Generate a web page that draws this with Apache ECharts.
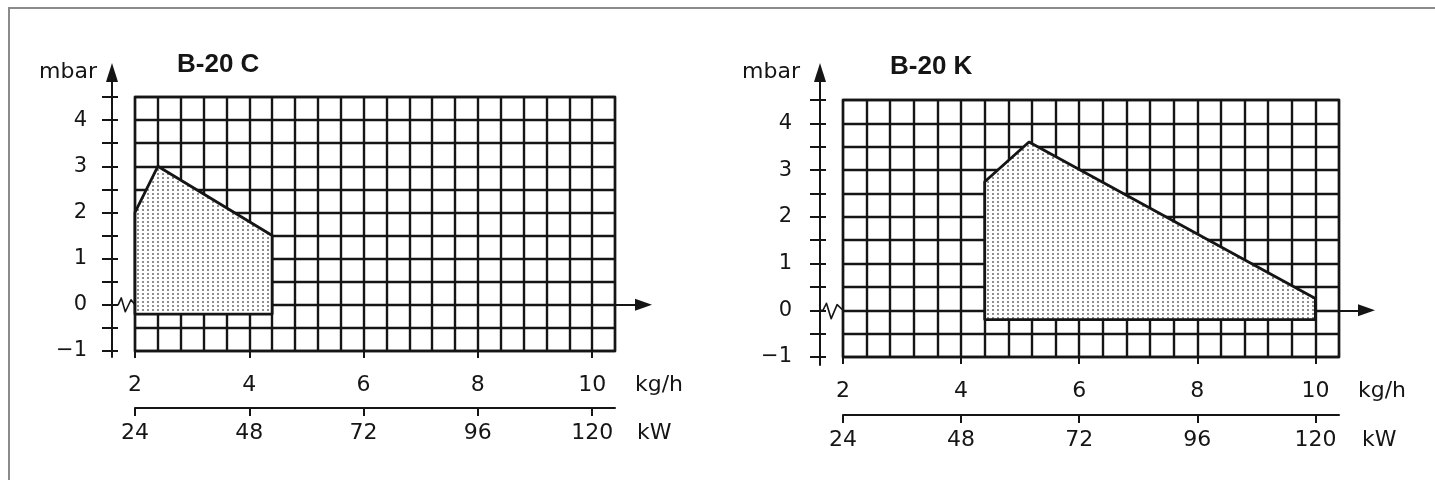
<!DOCTYPE html>
<html><head><meta charset="utf-8">
<script src="https://cdn.jsdelivr.net/npm/echarts@6/dist/echarts.min.js"></script>
<style>
html,body{margin:0;padding:0;background:#fff;overflow:hidden;width:1435px;height:480px;}
#frame{position:absolute;left:8px;top:7px;width:1440px;height:480px;border-top:2px solid #8a8a8a;border-left:2px solid #8a8a8a;}
#chart{position:absolute;left:0;top:0;width:1435px;height:480px;}
</style></head><body>
<div id="frame"></div>
<div id="chart"></div>
<script>
// ---------------- data ----------------
const titles = ['B-20 C', 'B-20 K'];
const yUnit = 'mbar';
const xUnit = 'kg/h';
const powerUnit = 'kW';
const massTicks = [2, 4, 6, 8, 10];
const powerTicks = [24, 48, 72, 96, 120];
const pressureLabels = [-1, 0, 1, 2, 3, 4];
const pressureTicks = [-1, -0.5, 0, 0.5, 1, 1.5, 2, 2.5, 3, 3.5, 4, 4.5];
const xMin = 2, xMax = 10.4, xStep = 0.4;
const yMin = -1, yMax = 4.5, yStep = 0.5;
const kwPerKg = 12;
// working range polygons (kg/h, mbar)
const rangeC_x = [2.0, 2.4, 4.4, 4.4, 2.0];
const rangeC_y = [2.0, 3.0, 1.5, -0.2, -0.2];
const rangeK_x = [4.4, 4.4, 5.15, 10.0, 10.0];
const rangeK_y = [-0.2, 2.75, 3.6, 0.25, -0.2];
// axis-break zigzag at 0 mbar (kg/h, mbar)
const breakC_x = [1.6, 1.705, 1.76, 1.83, 1.93, 2.0];
const breakC_y = [0, 0, 0.15, -0.15, 0.11, 0];
const breakK_x = [1.61, 1.66, 1.72, 1.8, 1.9, 2.0];
const breakK_y = [0, 0, 0.15, -0.18, 0.12, 0];

// ---------------- layout ----------------
const panels = [
  {plotLeft:135, plotRight:615, plotTop:97, plotBottom:351, axisGap:23, arrowTipY:63, arrowTipX:652,
   axisBottom:357, kwOffset:57, titleLeft:172, titleTop:47, labelGapY:25, nameGapY:15, xNameGap:20, kwNameGap:22,
   poly:[rangeC_x, rangeC_y], brk:[breakC_x, breakC_y]},
  {plotLeft:843, plotRight:1339, plotTop:100, plotBottom:357, axisGap:23, arrowTipY:63, arrowTipX:1375,
   axisBottom:365, kwOffset:58, titleLeft:885, titleTop:49, labelGapY:28, nameGapY:20, xNameGap:19, kwNameGap:23,
   poly:[rangeK_x, rangeK_y], brk:[breakK_x, breakK_y]}
];
const INK = '#151515';
const FONT = 'DejaVu Sans';
const yArrowLen = 19, xArrowLen = 17;

function dotPattern(){
  const c = document.createElement('canvas');
  c.width = 5; c.height = 4;
  const g = c.getContext('2d');
  g.fillStyle = '#ffffff'; g.fillRect(0,0,5,4);
  g.fillStyle = '#8f8f8f'; g.fillRect(2,1,2,2);
  return c;
}
const pattern = {image: dotPattern(), repeat: 'repeat'};
const fmtMinus = v => (v < 0 ? '\u2212' + Math.abs(v) : String(v));

const grid = [], xAxis = [], yAxis = [], series = [], title = [];
panels.forEach((p, i) => {
  const kx = (p.plotRight - p.plotLeft) / (xMax - xMin);
  const ky = (p.plotBottom - p.plotTop) / (yMax - yMin);
  const bTop = p.arrowTipY + yArrowLen / 2;
  const bRight = p.arrowTipX - xArrowLen / 2;
  const yBMin = yMin - (p.axisBottom - p.plotBottom) / ky;
  const yBMax = yMax + (p.plotTop - bTop) / ky;
  const xBMax = xMin + (bRight - p.plotLeft) / kx;

  grid.push({left:p.plotLeft, top:p.plotTop, width:p.plotRight - p.plotLeft, height:p.plotBottom - p.plotTop,
             show:true, borderColor:INK, borderWidth:2.4, backgroundColor:'transparent', containLabel:false});
  grid.push({left:p.plotLeft, top:bTop, width:bRight - p.plotLeft, height:p.axisBottom - bTop,
             show:false, containLabel:false});
  const gP = 2*i, gB = 2*i+1;
  const xi = 4*i, yi = 3*i;

  const lbl = {fontFamily:FONT, fontSize:22, color:INK};
  const gridLine = {color:INK, width:2.4};
  // x axes: gridlines, kg/h labels, kW labels, arrow
  xAxis.push({gridIndex:gP, type:'value', min:xMin, max:xMax, interval:xStep,
    axisLine:{show:false, onZero:false}, axisTick:{show:false}, axisLabel:{show:false},
    splitLine:{show:true, lineStyle:gridLine}});
  xAxis.push({gridIndex:gP, type:'value', min:xMin, max:xMax, position:'bottom',
    axisLine:{show:false, onZero:false},
    axisTick:{show:true, customValues:massTicks, length:7, lineStyle:{color:INK, width:2}},
    axisLabel:Object.assign({customValues:massTicks, margin:23}, lbl),
    splitLine:{show:false},
    name:xUnit, nameLocation:'end', nameGap:p.xNameGap,
    nameTextStyle:Object.assign({align:'left', verticalAlign:'top', padding:[23,0,0,0]}, lbl)});
  xAxis.push({gridIndex:gP, type:'value', min:xMin*kwPerKg, max:xMax*kwPerKg, position:'bottom', offset:p.kwOffset,
    axisLine:{show:true, onZero:false, lineStyle:{color:INK, width:2}},
    axisTick:{show:true, customValues:powerTicks, length:8, lineStyle:{color:INK, width:2}},
    axisLabel:Object.assign({customValues:powerTicks, margin:14}, lbl),
    splitLine:{show:false},
    name:powerUnit, nameLocation:'end', nameGap:p.kwNameGap,
    nameTextStyle:Object.assign({align:'left', verticalAlign:'top', padding:[14,0,0,0]}, lbl)});
  xAxis.push({gridIndex:gB, type:'value', min:xMin, max:xBMax,
    axisLine:{show:true, onZero:true, symbol:['none','triangle'], symbolSize:[12, xArrowLen], lineStyle:{color:INK, width:2}},
    axisTick:{show:false}, axisLabel:{show:false}, splitLine:{show:false}});

  // y axes: gridlines, outer ticks+labels+arrow, inner ticks
  yAxis.push({gridIndex:gP, type:'value', min:yMin, max:yMax, interval:yStep,
    axisLine:{show:false, onZero:false}, axisTick:{show:false}, axisLabel:{show:false},
    splitLine:{show:true, lineStyle:gridLine}});
  yAxis.push({gridIndex:gB, type:'value', min:yBMin, max:yBMax, position:'left', offset:p.axisGap,
    axisLine:{show:true, onZero:false, symbol:['none','triangle'], symbolSize:[12, yArrowLen], lineStyle:{color:INK, width:2}},
    axisTick:{show:true, customValues:pressureTicks, length:10, lineStyle:{color:INK, width:2}},
    axisLabel:Object.assign({customValues:pressureLabels, margin:p.labelGapY, formatter:fmtMinus}, lbl, {fontSize:21}),
    splitLine:{show:false},
    name:yUnit, nameLocation:'end', nameGap:0,
    nameTextStyle:Object.assign({align:'right', verticalAlign:'middle', padding:[0,p.nameGapY,0,0]}, lbl)});
  yAxis.push({gridIndex:gB, type:'value', min:yBMin, max:yBMax, position:'left', offset:p.axisGap,
    axisLine:{show:false, onZero:false},
    axisTick:{show:true, inside:true, customValues:pressureTicks, length:6, lineStyle:{color:INK, width:2}},
    axisLabel:{show:false}, splitLine:{show:false}});

  const [px, py] = p.poly;
  const polyData = px.map((x, k) => [x, py[k]]);
  series.push({type:'custom', xAxisIndex:xi, yAxisIndex:yi, data:polyData, z:5, clip:false, silent:true,
    renderItem:(params, api) => {
      if (params.dataIndex !== 0) return;
      const pts = polyData.map(d => api.coord(d));
      return {type:'polygon', shape:{points:pts},
              style:{fill:pattern, stroke:INK, lineWidth:2.8, lineJoin:'round'}};
    }});
  const [bx, by] = p.brk;
  const brkData = bx.map((x, k) => [x, by[k]]);
  series.push({type:'custom', xAxisIndex:xi+3, yAxisIndex:yi+1, data:brkData, z:6, clip:false, silent:true,
    renderItem:(params, api) => {
      if (params.dataIndex !== 0) return;
      const pts = brkData.map(d => api.coord(d));
      return {type:'polyline', shape:{points:pts},
              style:{fill:null, stroke:INK, lineWidth:1.6, lineJoin:'round'}};
    }});

  title.push({text:titles[i], left:p.titleLeft, top:p.titleTop,
    textStyle:{fontFamily:'Liberation Sans', fontWeight:'bold', fontSize:26, color:INK}});
});

const chart = echarts.init(document.getElementById('chart'), null, {renderer:'canvas'});
chart.setOption({animation:false, backgroundColor:'transparent', title, grid, xAxis, yAxis, series});
</script>
</body></html>
